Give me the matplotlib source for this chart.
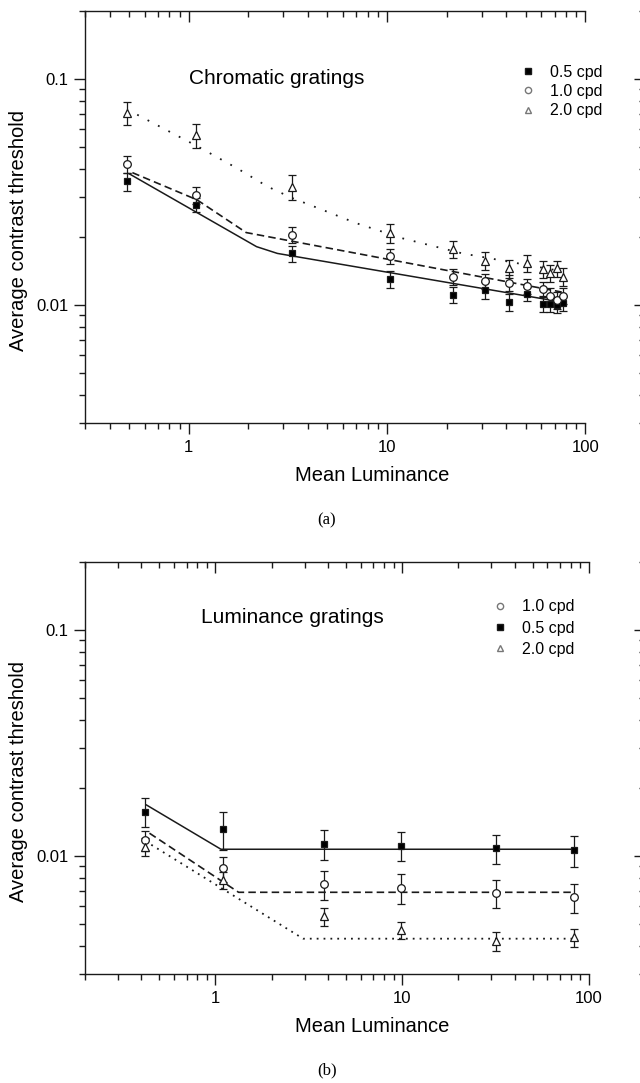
import matplotlib
matplotlib.use("Agg")
import matplotlib.pyplot as plt
from matplotlib.lines import Line2D
from matplotlib.ticker import FuncFormatter, NullFormatter

plt.rcParams['font.family'] = ['Liberation Sans', 'DejaVu Sans']

# ---- (a) chromatic gratings ----
lum_a = [0.49, 1.09, 3.3, 10.4, 21.4, 31.2, 41.2, 51, 61, 66.5, 72, 77]
sq_a = [0.0352, 0.0278, 0.0169, 0.0130, 0.0111, 0.0116, 0.0103, 0.0112, 0.0101, 0.0101, 0.0100, 0.0102]
sq_a_err = [0.0033, 0.0020, 0.0014, 0.0011, 0.0009, 0.0010, 0.0009, 0.0008, 0.0008, 0.0008, 0.0008, 0.0008]
ci_a = [0.0419, 0.0306, 0.0204, 0.0164, 0.0133, 0.0127, 0.0125, 0.0121, 0.0117, 0.0110, 0.0105, 0.0110]
ci_a_err = [0.0036, 0.0026, 0.0017, 0.0012, 0.0011, 0.0010, 0.0010, 0.0009, 0.0009, 0.0009, 0.0009, 0.0009]
tr_a = [0.0710, 0.0565, 0.0334, 0.0208, 0.0176, 0.0157, 0.0145, 0.0153, 0.0144, 0.0138, 0.0145, 0.0133]
tr_a_err = [0.0085, 0.0068, 0.0042, 0.0020, 0.0015, 0.0014, 0.0013, 0.0013, 0.0012, 0.0012, 0.0012, 0.0012]

# fitted curves (nodes)
fit_sq_a_x = [0.5, 2.2, 2.8, 76]
fit_sq_a_y = [0.0381, 0.0181, 0.0169, 0.0103]
fit_ci_a_x = [0.52, 1.1, 1.95, 76]
fit_ci_a_y = [0.0385, 0.0292, 0.0209, 0.0114]
fit_tr_a_x = [0.55, 1.1, 1.75, 2.5, 3.3, 4.5, 7, 12, 24, 40, 76]
fit_tr_a_y = [0.0695, 0.0505, 0.0403, 0.0334, 0.0298, 0.0268, 0.0230, 0.0197, 0.0169, 0.0156, 0.0141]

# ---- (b) luminance gratings ----
lum_b = [0.42, 1.1, 3.8, 9.9, 31.9, 83.5]
sq_b = [0.0157, 0.0131, 0.0113, 0.0111, 0.0108, 0.0106]
sq_b_err = [0.0023, 0.0025, 0.0017, 0.0016, 0.0016, 0.0017]
ci_b = [0.0117, 0.0088, 0.0075, 0.0072, 0.00685, 0.00655]
ci_b_err = [0.0012, 0.0011, 0.0011, 0.0011, 0.0010, 0.00095]
tr_b = [0.0110, 0.0078, 0.0054, 0.0047, 0.0042, 0.00436]
tr_b_err = [0.0010, 0.0007, 0.0005, 0.0004, 0.0004, 0.0004]

fit_sq_b_x = [0.427, 1.07, 83.5]
fit_sq_b_y = [0.0168, 0.0107, 0.0107]
fit_ci_b_x = [0.443, 1.33, 83.5]
fit_ci_b_y = [0.0126, 0.0069, 0.0069]
fit_tr_b_x = [0.453, 2.95, 83.5]
fit_tr_b_y = [0.0112, 0.0043, 0.0043]

INK = '#1a1a1a'


def style_axes(ax, xlim, ylim):
  ax.set_xscale('log')
  ax.set_yscale('log')
  ax.set_xlim(*xlim)
  ax.set_ylim(*ylim)
  fmt = FuncFormatter(lambda v, p: f'{v:g}')
  ax.xaxis.set_major_formatter(fmt)
  ax.yaxis.set_major_formatter(fmt)
  ax.xaxis.set_minor_formatter(NullFormatter())
  ax.yaxis.set_minor_formatter(NullFormatter())
  ax.tick_params(which='major', direction='out', length=8, width=1.0,
                 color=INK, labelsize=12, pad=4)
  ax.tick_params(which='minor', direction='out', length=4, width=1.0, color=INK)
  for s in ax.spines.values():
    s.set_color(INK)
    s.set_linewidth(1.0)
  ax.spines['right'].set_visible(False)
  ax.spines['top'].set_bounds(xlim[0], 100)
  ax.spines['bottom'].set_bounds(xlim[0], 100)

  # mirrored ticks on top and right, pointing inward
  tx = ax.twiny()
  tx.set_xscale('log')
  tx.set_xlim(*xlim)
  tx.tick_params(axis='x', which='both', direction='in', top=True, bottom=False,
                 labeltop=False, labelbottom=False, color=INK, width=1.0)
  tx.tick_params(axis='x', which='major', length=8)
  tx.tick_params(axis='x', which='minor', length=4)
  ty = ax.twinx()
  ty.set_yscale('log')
  ty.set_ylim(*ylim)
  ty.tick_params(axis='y', which='both', direction='in', right=True, left=False,
                 labelright=False, labelleft=False, color=INK, width=1.0)
  ty.tick_params(axis='y', which='major', length=8)
  ty.tick_params(axis='y', which='minor', length=4)
  for t in (tx, ty):
    for s in t.spines.values():
      s.set_visible(False)

  ax.set_xlabel('Mean Luminance', fontsize=14.5)
  ax.xaxis.label.set_va('center')
  ax.xaxis.set_label_coords(0.5125, -0.127)
  ax.set_ylabel('Average contrast threshold', fontsize=14.5)
  ax.yaxis.label.set_va('center')
  ax.yaxis.set_label_coords(-0.118, 0.468)


def draw_series(ax, x, y, err, marker, face, ms):
  ax.errorbar(x, y, yerr=err, fmt=marker, ms=ms, mfc=face, mec=INK, mew=0.9,
              ecolor=INK, elinewidth=0.9, capsize=3, capthick=0.9, zorder=3)


fig = plt.figure(figsize=(6.4, 10.83), dpi=100)
ax_a = fig.add_axes([85 / 640, 1 - 423 / 1083, 560 / 640, 412 / 1083])
ax_b = fig.add_axes([85 / 640, 1 - 974 / 1083, 560 / 640, 412 / 1083])

# panel (a)
ax_a.plot(fit_sq_a_x, fit_sq_a_y, '-', color=INK, lw=1.1, zorder=2)
ax_a.plot(fit_ci_a_x, fit_ci_a_y, color=INK, lw=1.2, ls=(0, (4.5, 2.5)), zorder=2)
ax_a.plot(fit_tr_a_x, fit_tr_a_y, color=INK, lw=1.3, ls=(0, (1, 5.5)), zorder=2)
draw_series(ax_a, lum_a, sq_a, sq_a_err, 's', 'black', 5)
draw_series(ax_a, lum_a, ci_a, ci_a_err, 'o', 'white', 5.5)
draw_series(ax_a, lum_a, tr_a, tr_a_err, '^', 'white', 6)
style_axes(ax_a, (0.3, 200), (0.003, 0.2))
ax_a.text(1.0, 0.1, 'Chromatic gratings', fontsize=15, ha='left', va='center')

h_sq = Line2D([], [], ls='none', marker='s', ms=4.5, mfc='black', mec=INK)
h_ci = Line2D([], [], ls='none', marker='o', ms=4.5, mfc='white', mec='#777')
h_tr = Line2D([], [], ls='none', marker='^', ms=5, mfc='white', mec='#777')
ax_a.legend([h_sq, h_ci, h_tr], ['0.5 cpd', '1.0 cpd', '2.0 cpd'], loc='upper left',
            bbox_to_anchor=(0.7796, 0.8694), frameon=False, fontsize=11.5,
            handlelength=0.8, handletextpad=1.0, labelspacing=0.26,
            borderpad=0, borderaxespad=0)

# panel (b)
ax_b.plot(fit_sq_b_x, fit_sq_b_y, '-', color=INK, lw=1.1, zorder=2)
ax_b.plot(fit_ci_b_x, fit_ci_b_y, color=INK, lw=1.2, ls=(0, (4.5, 2.5)), zorder=2)
ax_b.plot(fit_tr_b_x, fit_tr_b_y, color=INK, lw=1.3, ls=(0, (1, 2.8)), zorder=2)
draw_series(ax_b, lum_b, sq_b, sq_b_err, 's', 'black', 5)
draw_series(ax_b, lum_b, ci_b, ci_b_err, 'o', 'white', 5.5)
draw_series(ax_b, lum_b, tr_b, tr_b_err, '^', 'white', 6)
style_axes(ax_b, (0.2, 200), (0.003, 0.2))
ax_b.text(0.835, 0.114, 'Luminance gratings', fontsize=15, ha='left', va='center')
ax_b.legend([h_ci, h_sq, h_tr], ['1.0 cpd', '0.5 cpd', '2.0 cpd'], loc='upper left',
            bbox_to_anchor=(0.7296, 0.909), frameon=False, fontsize=11.5,
            handlelength=0.8, handletextpad=1.0, labelspacing=0.39,
            borderpad=0, borderaxespad=0)

fig.text(327 / 640, 1 - 520 / 1083, '(a)', family=['Liberation Serif', 'DejaVu Serif'],
         fontsize=12, ha='center', va='center')
fig.text(327 / 640, 1 - 1070 / 1083, '(b)', family=['Liberation Serif', 'DejaVu Serif'],
         fontsize=12, ha='center', va='center')

fig.savefig('out.png', dpi=100)
